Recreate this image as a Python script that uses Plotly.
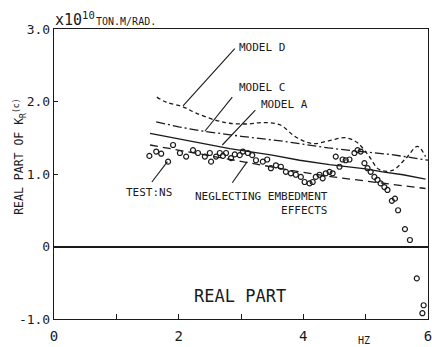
import plotly.graph_objects as go

# ---- data ----
model_d_x = [1.65, 1.80, 2.06, 2.28, 2.60, 2.82, 3.10, 3.35, 3.62, 3.88, 4.15, 4.42, 4.68, 4.87, 5.05, 5.22, 5.43, 5.65, 5.83, 5.96]
model_d_y = [2.06, 1.99, 1.93, 1.84, 1.74, 1.70, 1.69, 1.71, 1.68, 1.51, 1.42, 1.46, 1.50, 1.43, 1.25, 1.06, 1.05, 1.22, 1.38, 1.24]

model_c_x = [1.64, 2.00, 2.40, 3.00, 3.70, 4.40, 4.80, 5.40, 6.00]
model_c_y = [1.72, 1.65, 1.59, 1.52, 1.45, 1.36, 1.32, 1.27, 1.19]

model_a_x = [1.54, 2.20, 2.82, 3.50, 3.94, 4.42, 5.00, 5.27, 5.60, 5.96]
model_a_y = [1.56, 1.45, 1.35, 1.26, 1.19, 1.13, 1.07, 1.03, 0.99, 0.93]

neglect_x = [1.54, 2.30, 3.14, 3.80, 4.47, 5.20, 5.96]
neglect_y = [1.40, 1.28, 1.15, 1.05, 0.96, 0.88, 0.80]

test_x = [1.53, 1.64, 1.72, 1.83, 1.91, 2.02, 2.12, 2.23, 2.31, 2.42, 2.50, 2.52, 2.60, 2.66,
          2.71, 2.76, 2.84, 2.90, 2.98, 3.03, 3.11, 3.18, 3.24, 3.35, 3.42, 3.48, 3.56, 3.64,
          3.72, 3.80, 3.88, 3.96, 4.02, 4.10, 4.15, 4.20, 4.26, 4.31, 4.36, 4.42, 4.47, 4.52,
          4.58, 4.63, 4.68, 4.74, 4.82, 4.87, 4.92, 4.98, 5.03, 5.08, 5.14, 5.19, 5.24, 5.30,
          5.35, 5.42, 5.47, 5.52, 5.63, 5.71, 5.82, 5.93, 5.91]
test_y = [1.25, 1.31, 1.28, 1.17, 1.40, 1.29, 1.24, 1.33, 1.29, 1.24, 1.29, 1.17, 1.24, 1.29,
          1.25, 1.29, 1.22, 1.27, 1.26, 1.31, 1.29, 1.26, 1.19, 1.17, 1.20, 1.08, 1.12, 1.10,
          1.03, 1.01, 0.99, 0.96, 0.89, 0.87, 0.89, 0.96, 0.99, 0.94, 1.01, 1.03, 1.01, 1.24,
          1.10, 1.20, 1.19, 1.20, 1.29, 1.33, 1.31, 1.15, 1.08, 1.03, 0.96, 0.92, 0.87, 0.82,
          0.78, 0.63, 0.66, 0.50, 0.24, 0.09, -0.44, -0.81, -0.92]

x_range = [0, 6]
x_major_step = 2
x_minor_step = 1
y_ticks = [-1, 0, 1, 2, 3]
y_ticktext = ["-1.0", "0", "1.0", "2.0", "3.0"]

FONT = "DejaVu Sans Mono"
INK = "#1a1a1a"

fig = go.Figure()
fig.add_trace(go.Scatter(x=model_d_x, y=model_d_y, mode="lines",
                         line=dict(color=INK, width=1.3, dash="4px,3px"), line_shape="spline"))
fig.add_trace(go.Scatter(x=model_c_x, y=model_c_y, mode="lines",
                         line=dict(color=INK, width=1.3, dash="9px,3px,2px,3px")))
fig.add_trace(go.Scatter(x=model_a_x, y=model_a_y, mode="lines",
                         line=dict(color=INK, width=1.4)))
fig.add_trace(go.Scatter(x=neglect_x, y=neglect_y, mode="lines",
                         line=dict(color=INK, width=1.3, dash="8px,5px")))
fig.add_trace(go.Scatter(x=test_x, y=test_y, mode="markers",
                         marker=dict(symbol="circle-open", size=5, color=INK, line=dict(width=1.2))))

ann_font = dict(family=FONT, size=11, color=INK)
annotations = [
    dict(x=2.93, y=2.75, text="MODEL D", xanchor="left", yanchor="middle", font=ann_font, showarrow=False),
    dict(x=2.93, y=2.19, text="MODEL C", xanchor="left", yanchor="middle", font=ann_font, showarrow=False),
    dict(x=3.29, y=1.96, text="MODEL A", xanchor="left", yanchor="middle", font=ann_font, showarrow=False),
    dict(x=1.13, y=0.75, text="TEST:NS", xanchor="left", yanchor="middle", font=ann_font, showarrow=False),
    dict(x=4.43, y=0.60, text="NEGLECTING EMBEDMENT<br>EFFECTS", xanchor="right", yanchor="middle",
         align="right", font=ann_font, showarrow=False),
    dict(x=2.98, y=-0.68, text="REAL PART", xanchor="center", yanchor="middle",
         font=dict(family=FONT, size=17, color=INK), showarrow=False),
    dict(xref="paper", yref="paper", x=-0.004, y=1.035, text="x10<sup>10</sup>", xanchor="left",
         yanchor="middle", font=dict(family=FONT, size=15, color=INK), showarrow=False),
    dict(xref="paper", yref="paper", x=0.108, y=1.025, text="TON.M/RAD.", xanchor="left",
         yanchor="middle", font=dict(family=FONT, size=10, color=INK), showarrow=False),
    dict(xref="paper", yref="paper", x=0.83, y=-0.075, text="HZ", xanchor="center",
         yanchor="middle", font=dict(family=FONT, size=10, color=INK), showarrow=False),
    dict(xref="paper", yref="paper", x=-0.093, y=0.56, text="REAL PART OF K<sub>R</sub><sup>(c)</sup>",
         textangle=-90, xanchor="center", yanchor="middle",
         font=dict(family=FONT, size=11.5, color=INK), showarrow=False),
]

leaders = [
    (2.90, 2.73, 2.07, 1.94),
    (2.86, 2.06, 2.42, 1.59),
    (3.23, 1.88, 2.70, 1.40),
    (1.57, 0.89, 1.82, 1.17),
    (2.86, 0.88, 3.10, 1.17),
]
shapes = [dict(type="line", xref="x", yref="y", x0=a, y0=b, x1=c, y1=d,
               line=dict(color=INK, width=1.1)) for a, b, c, d in leaders]

fig.update_layout(
    width=432, height=347,
    margin=dict(l=54, r=4, t=29, b=28, autoexpand=False),
    paper_bgcolor="white", plot_bgcolor="white",
    showlegend=False,
    annotations=annotations,
    shapes=shapes,
    xaxis=dict(range=x_range, tickmode="linear", tick0=0, dtick=x_major_step, ticks="inside",
               ticklen=5, tickcolor=INK, showgrid=False, zeroline=False, showline=True,
               linecolor=INK, linewidth=1.4, mirror=True,
               tickfont=dict(family=FONT, size=14, color=INK), ticklabelstandoff=4,
               automargin=False, ticklabeloverflow="allow",
               minor=dict(tickmode="linear", tick0=0, dtick=x_minor_step, ticks="inside",
                          ticklen=5, tickcolor=INK, showgrid=False)),
    yaxis=dict(range=[-1, 3], tickvals=y_ticks, ticktext=y_ticktext, ticks="inside", ticklen=4,
               tickcolor=INK, showgrid=False, zeroline=True, zerolinecolor=INK, zerolinewidth=1.5,
               showline=True, linecolor=INK, linewidth=1.4, mirror=True, automargin=False,
               ticklabeloverflow="allow",
               tickfont=dict(family=FONT, size=13, color=INK)),
)

fig.write_html("out.html")
